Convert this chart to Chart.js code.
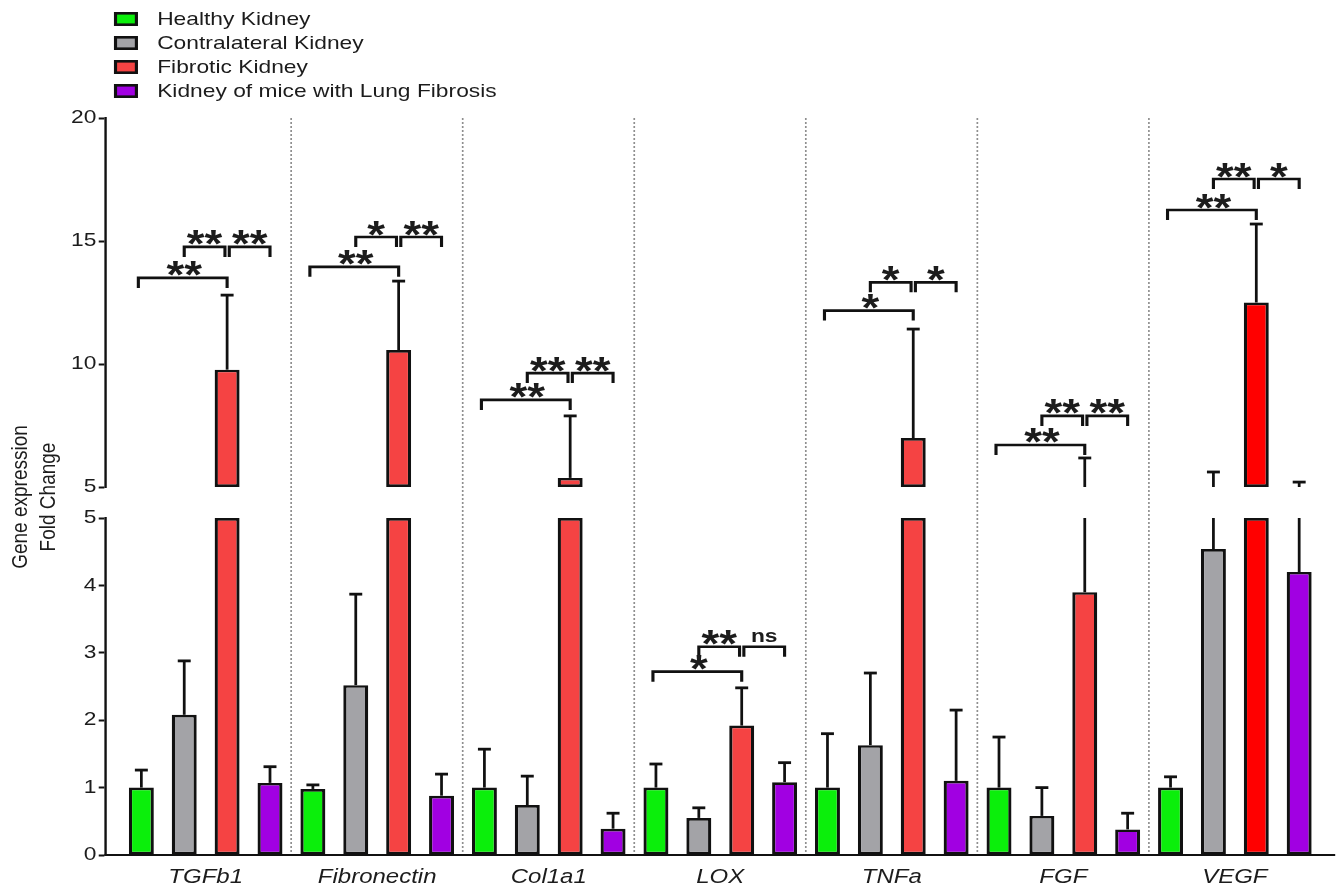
<!DOCTYPE html>
<html lang="en">
<head>
<meta charset="utf-8">
<title>Gene expression fold change</title>
<script src="https://cdn.jsdelivr.net/npm/chart.js@4.4.1/dist/chart.umd.min.js"></script>
<style>
  html, body { margin: 0; padding: 0; background: #fff; overflow: hidden; }
  #chart { display: block; }
</style>
</head>
<body>
<canvas id="chart" width="1117" height="888" style="width:1340px;height:888px"></canvas>
<script>
// ---------- data ----------
const genes = ['TGFb1', 'Fibronectin', 'Col1a1', 'LOX', 'TNFa', 'FGF', 'VEGF'];
const groupNames = ['Healthy Kidney', 'Contralateral Kidney', 'Fibrotic Kidney', 'Kidney of mice with Lung Fibrosis'];

const healthy          = [1.00, 0.98, 1.00, 1.00, 1.00, 1.00, 1.00];
const healthyErr       = [1.26, 1.04, 1.57, 1.35, 1.80, 1.75, 1.16];
const contralateral    = [2.08, 2.52, 0.74, 0.55, 1.63, 0.58, 4.54];
const contralateralErr = [2.88, 3.87, 1.17, 0.70, 2.70, 1.00, 5.61];
const fibrotic         = [9.77, 10.57, 5.37, 1.92, 6.99, 3.90, 12.50];
const fibroticErr      = [12.80, 13.37, 7.89, 2.48, 11.42, 6.18, 15.69];
const lungFibrosis     = [1.07, 0.88, 0.39, 1.08, 1.10, 0.38, 4.20];
const lungFibrosisErr  = [1.31, 1.20, 0.62, 1.37, 2.15, 0.62, 5.20];

// broken value axis
const breakValue = 5;
const lowerTicks = [0, 1, 2, 3, 4, 5];
const upperTicks = [5, 10, 15, 20];

// significance brackets (heights in fold change units)
const sigLowHeight  = [13.50, 13.95, 8.54, 2.72, 12.17, 6.71, 16.26];
const sigHighHeight = [14.76, 15.16, 9.63, 3.09, 13.32, 7.89, 17.52];
const sigHealthyVsFibrotic = ['**', '**', '**', '*', '*', '**', '**'];
const sigContraVsFibrotic  = ['**', '*', '**', '**', '*', '**', '**'];
const sigFibroticVsLung    = ['**', '**', '**', 'ns', '*', '**', '*'];

// ---------- styling ----------
const FONT = '"Liberation Sans", Arial, Helvetica, sans-serif';
const INK = '#1c1c1c';
const LINE = '#111111';
const fills = ['#0bef0b', '#a3a3a7', '#f54343', '#a100e2'];
const vegfRed = '#ff0000';
const PAGE_W = 1340;        // on-screen width; the layout is drawn wide-stretched into it
const AXIS_W = 88.3;        // y axis block width (layout units)
const EDGE_PAD = 0.0815;    // spare room between axis and first/last group (in categories)

const seriesValues = [healthy, contralateral, fibrotic, lungFibrosis];
const seriesErrors = [healthyErr, contralateralErr, fibroticErr, lungFibrosisErr];
const vegfIndex = genes.indexOf('VEGF');

Chart.defaults.font.family = FONT;
Chart.defaults.color = INK;

// each series: a lower part on the 0-5 axis and an upper part above the break
const datasets = [];
seriesValues.forEach((values, k) => {
  const color = k === 2 ? (c => (c.dataIndex === vegfIndex ? vegfRed : fills[k])) : fills[k];
  const common = {
    label: groupNames[k],
    stack: 'g' + k,
    backgroundColor: color,
    borderColor: LINE,
    borderWidth: 2.7,
    borderSkipped: false,
    categoryPercentage: 1,
    barPercentage: 0.582
  };
  datasets.push({ ...common, yAxisID: 'y',
    data: values.map((v, i) => ({ x: i, y: Math.min(v, breakValue) })) });
  datasets.push({ ...common, yAxisID: 'yTop',
    data: values.map((v, i) => ({ x: i, y: v > breakValue ? [breakValue, v] : null })) });
});

function valuePixel(chart, v) {
  return v > breakValue ? chart.scales.yTop.getPixelForValue(v) : chart.scales.y.getPixelForValue(v);
}

// stretch the drawing horizontally to fill the page width
const widthStretch = {
  id: 'widthStretch',
  beforeDraw(chart) {
    chart.ctx.setTransform(chart.canvas.width / chart.width, 0, 0, 1, 0, 0);
  }
};

// upper error bars split across the axis break
const errorBars = {
  id: 'errorBars',
  afterDatasetsDraw(chart) {
    const { ctx } = chart;
    const lo = chart.scales.y, hi = chart.scales.yTop;
    ctx.save();
    ctx.strokeStyle = LINE;
    seriesValues.forEach((values, k) => {
      const bars = chart.getDatasetMeta(2 * k).data;
      values.forEach((v, i) => {
        const e = seriesErrors[k][i];
        const x = bars[i].x;
        ctx.lineWidth = 2.3;
        ctx.beginPath();
        if (v < breakValue) {
          ctx.moveTo(x, lo.getPixelForValue(v));
          ctx.lineTo(x, lo.getPixelForValue(Math.min(e, breakValue)));
        }
        if (e > breakValue) {
          ctx.moveTo(x, hi.getPixelForValue(Math.max(v, breakValue)));
          ctx.lineTo(x, hi.getPixelForValue(e));
        }
        ctx.stroke();
        const yCap = valuePixel(chart, e);
        ctx.lineWidth = 2.8;
        ctx.beginPath();
        ctx.moveTo(x - 5.4, yCap);
        ctx.lineTo(x + 5.4, yCap);
        ctx.stroke();
      });
    });
    ctx.restore();
  }
};

function drawBracket(ctx, x1, x2, y, drop) {
  ctx.beginPath();
  ctx.moveTo(x1, y + drop);
  ctx.lineTo(x1, y);
  ctx.lineTo(x2, y);
  ctx.lineTo(x2, y + drop);
  ctx.stroke();
}

function drawMark(ctx, text, x, lineY) {
  const star = text !== 'ns';
  ctx.font = star ? `bold 38px ${FONT}` : `bold 19px ${FONT}`;
  const m = ctx.measureText(text);
  const centerY = lineY - (star ? 9 : 9.5);
  const base = centerY + (m.actualBoundingBoxAscent - m.actualBoundingBoxDescent) / 2;
  ctx.textAlign = 'center';
  ctx.textBaseline = 'alphabetic';
  ctx.fillText(text, x, base);
}

// significance brackets above each gene group
const significance = {
  id: 'significance',
  afterDatasetsDraw(chart) {
    const { ctx } = chart;
    const xs = [0, 1, 2, 3].map(k => chart.getDatasetMeta(2 * k).data);
    ctx.save();
    ctx.strokeStyle = LINE;
    ctx.fillStyle = INK;
    ctx.lineWidth = 2.6;
    ctx.lineJoin = 'miter';
    genes.forEach((g, i) => {
      const xH = xs[0][i].x, xC = xs[1][i].x, xF = xs[2][i].x, xL = xs[3][i].x;
      const yLow = valuePixel(chart, sigLowHeight[i]);
      const yHigh = valuePixel(chart, sigHighHeight[i]);
      drawBracket(ctx, xH - 2.5, xF, yLow, 10);
      drawBracket(ctx, xC, xF - 1.8, yHigh, 10);
      drawBracket(ctx, xF + 1.8, xL, yHigh, 10);
      drawMark(ctx, sigHealthyVsFibrotic[i], (xH + xF) / 2, yLow);
      drawMark(ctx, sigContraVsFibrotic[i], (xC + xF - 1.8) / 2, yHigh);
      drawMark(ctx, sigFibroticVsLung[i], (xF + 1.8 + xL) / 2, yHigh);
    });
    ctx.restore();
  }
};

// series key and the value-axis title
const keyAndTitle = {
  id: 'keyAndTitle',
  afterDraw(chart) {
    const { ctx } = chart;
    ctx.save();
    groupNames.forEach((name, k) => {
      const cy = 19 + 24 * k;
      ctx.fillStyle = fills[k];
      ctx.fillRect(95, cy - 7, 20, 14);
      ctx.strokeStyle = LINE;
      ctx.lineWidth = 2.6;
      ctx.strokeRect(96.3, cy - 5.7, 17.4, 11.4);
      ctx.fillStyle = INK;
      ctx.font = `19px ${FONT}`;
      ctx.textAlign = 'left';
      ctx.textBaseline = 'middle';
      ctx.fillText(name, 131, cy + 1);
    });
    const titleLines = ['Gene expression', 'Fold Change'];
    ctx.font = `19px ${FONT}`;
    ctx.fillStyle = INK;
    ctx.textAlign = 'center';
    ctx.textBaseline = 'middle';
    titleLines.forEach((t, j) => {
      ctx.save();
      ctx.translate(17.2 + 23 * j, 497);
      ctx.rotate(-Math.PI / 2);
      ctx.fillText(t, 0, 0);
      ctx.restore();
    });
    ctx.restore();
  }
};

const yAxisCommon = {
  type: 'linear',
  position: 'left',
  stack: 'fold',
  stacked: false,
  afterFit: s => { s.width = AXIS_W; },
  ticks: { font: { size: 19 }, color: INK, padding: 2 },
  grid: { drawOnChartArea: false, drawTicks: true, tickLength: 6, tickWidth: 2, tickColor: LINE, color: LINE },
  border: { display: true, color: LINE, width: 2 }
};

const xMin = -0.5 - EDGE_PAD;
const xMax = genes.length - 0.5 + EDGE_PAD;

const chart = new Chart(document.getElementById('chart'), {
  type: 'bar',
  data: { datasets },
  options: {
    responsive: false,
    animation: false,
    events: [],
    layout: { padding: { top: 118, left: 0, right: 4.5, bottom: 0 } },
    plugins: { legend: { display: false }, tooltip: { enabled: false }, title: { display: false } },
    scales: {
      x: {
        type: 'linear',
        position: 'bottom',
        offset: false,
        min: xMin,
        max: xMax,
        afterBuildTicks: s => { s.ticks = genes.map((_, i) => ({ value: i })); },
        afterFit: s => { s.height = 33; },
        ticks: {
          autoSkip: false,
          maxRotation: 0,
          padding: 2,
          color: INK,
          font: { size: 20, style: 'italic' },
          callback: v => genes[v]
        },
        grid: { display: false, offset: false },
        border: { display: true, color: LINE, width: 2 }
      },
      groupLines: {
        type: 'linear',
        axis: 'x',
        position: 'top',
        offset: false,
        min: xMin,
        max: xMax,
        afterBuildTicks: s => { s.ticks = genes.slice(1).map((_, i) => ({ value: i + 0.5 })); },
        afterFit: s => { s.height = 0; },
        ticks: { display: false },
        grid: { display: true, offset: false, drawTicks: false, color: '#8f8f8f', lineWidth: 1.4 },
        border: { display: false, dash: [2, 2] }
      },
      y: {
        ...yAxisCommon,
        weight: 1,
        stackWeight: 337,
        min: 0,
        max: breakValue,
        afterBuildTicks: s => { s.ticks = lowerTicks.map(v => ({ value: v })); }
      },
      yGap: {
        type: 'linear',
        position: 'left',
        stack: 'fold',
        weight: 2,
        stackWeight: 31,
        display: false
      },
      yTop: {
        ...yAxisCommon,
        weight: 3,
        stackWeight: 369,
        min: breakValue,
        max: 20,
        afterBuildTicks: s => { s.ticks = upperTicks.map(v => ({ value: v })); }
      }
    }
  },
  plugins: [widthStretch, errorBars, significance, keyAndTitle]
});

// full-resolution backing store for the stretched drawing
chart.canvas.width = PAGE_W;
chart.draw();
</script>
</body>
</html>
